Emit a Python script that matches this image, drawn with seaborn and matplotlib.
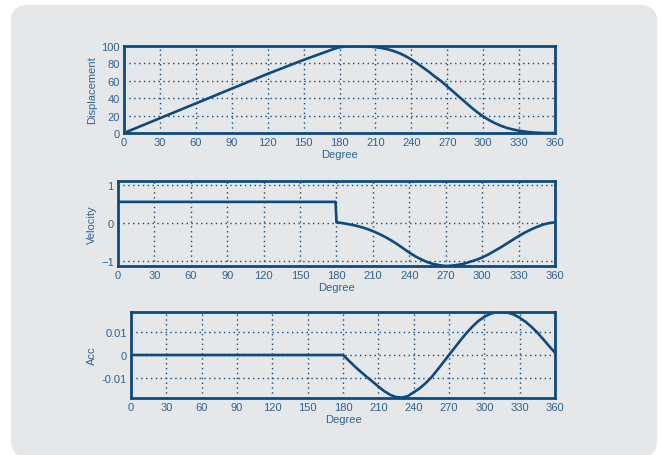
import numpy as np
import pandas as pd
import matplotlib
matplotlib.use("Agg")
import matplotlib.pyplot as plt
import seaborn as sns
from matplotlib.patches import FancyBboxPatch

# values
disp_deg = [0, 30, 60, 90, 120, 150, 160, 170, 175, 180, 185, 190, 195, 200, 205, 210,
            215, 220, 225, 230, 235, 240, 245, 250, 255, 260, 265, 270, 275, 280, 285,
            290, 295, 300, 305, 310, 315, 320, 325, 330, 335, 340, 345, 350, 360]
disp_val = [0, 17, 34, 51, 68, 84, 89, 94, 96.5, 98.5, 99.5, 100, 100, 99.8, 99.4, 98.7,
            97.7, 96.3, 94.3, 91.8, 88.5, 84.5, 80, 75, 70, 64.5, 59.5, 53.5, 47.5, 41.5, 35.5,
            29.5, 24, 19, 14.8, 11.2, 8.2, 5.8, 4, 2.6, 1.6, 0.8, 0.3, 0, 0]

vel_deg = [0, 179.2, 180, 185, 190, 195, 200, 205, 210, 215, 220, 225, 230, 235, 240,
           245, 250, 255, 260, 265, 270, 275, 280, 285, 290, 295, 300, 305, 310, 315,
           320, 325, 330, 335, 340, 345, 350, 355, 360]
vel_val = [0.555, 0.555, 0.02, 0.0, -0.03, -0.06, -0.10, -0.15, -0.21, -0.28, -0.36,
           -0.45, -0.55, -0.66, -0.77, -0.87, -0.95, -1.02, -1.07, -1.10, -1.12, -1.11,
           -1.09, -1.06, -1.01, -0.96, -0.90, -0.82, -0.73, -0.64, -0.54, -0.44, -0.34,
           -0.25, -0.17, -0.10, -0.04, 0.0, 0.02]

acc_deg = [0, 180, 185, 190, 195, 200, 205, 210, 215, 220, 225, 230, 235, 240, 245,
           250, 255, 260, 265, 270, 275, 280, 285, 290, 295, 300, 305, 310, 315, 320,
           325, 330, 335, 340, 345, 350, 355, 360]
acc_val = [0, 0, -0.0025, -0.0050, -0.0073, -0.0095, -0.0116, -0.0138, -0.0158, -0.0174,
           -0.0184, -0.0186, -0.0180, -0.0163, -0.0146, -0.0124, -0.0098, -0.0066,
           -0.0033, 0.0, 0.0033, 0.0066, 0.0097, 0.0125, 0.0149, 0.0167, 0.0180, 0.0187,
           0.0188, 0.0185, 0.0177, 0.0163, 0.0145, 0.0123, 0.0098, 0.0069, 0.0039, 0.001]

deg_ticks = list(range(0, 361, 30))
disp_ticks = [0, 20, 40, 60, 80, 100]
vel_ticks = [-1, 0, 1]
acc_ticks = [-0.01, 0, 0.01]
acc_ticklabels = ["-0.01", "0", "0.01"]

BLUE = "#0d4a80"
TEXT = "#2f6394"
PANEL = "#e6e7e9"

sns.set_style("white")
plt.rcParams["font.family"] = ["Liberation Sans", "DejaVu Sans"]

fig = plt.figure(figsize=(6.58, 4.56), dpi=100)
fig.patch.set_facecolor("white")
W, H = 658.0, 456.0
box = FancyBboxPatch((11 / W, -2 / H), 646 / W, 452 / H,
                     boxstyle="round,pad=0,rounding_size=0.025",
                     transform=fig.transFigure, facecolor=PANEL, edgecolor="none",
                     zorder=-10, mutation_aspect=W / H)
fig.patches.append(box)


def px_axes(left, top, right, bottom):
    return fig.add_axes([left / W, (H - bottom) / H, (right - left) / W, (bottom - top) / H])


panels = [
    (px_axes(124, 47, 555, 134), disp_deg, disp_val, "Displacement", (0, 100), disp_ticks, None),
    (px_axes(118, 182, 555, 267), vel_deg, vel_val, "Velocity", (-1.12, 1.1), vel_ticks, None),
    (px_axes(131, 313, 555, 399), acc_deg, acc_val, "Acc", (-0.0188, 0.0188), acc_ticks, acc_ticklabels),
]

for ax, xs, ys, label, ylim, yticks, yticklabels in panels:
    df = pd.DataFrame({"Degree": xs, label: ys})
    ax.set_facecolor(PANEL)
    sns.lineplot(data=df, x="Degree", y=label, ax=ax, color=BLUE, linewidth=1.9,
                 estimator=None, sort=False)
    ax.set_xlim(0, 360)
    ax.set_ylim(*ylim)
    ax.set_xticks(deg_ticks)
    ax.set_yticks(yticks)
    if yticklabels:
        ax.set_yticklabels(yticklabels)
    ax.grid(True, color=BLUE, linestyle=(0, (1, 2.5)), linewidth=1.0)
    ax.set_axisbelow(True)
    for sp in ax.spines.values():
        sp.set_visible(True)
        sp.set_color(BLUE)
        sp.set_linewidth(2.0)
        sp.set_zorder(5)
    ax.tick_params(axis="both", length=0, pad=3, labelsize=8, labelcolor=TEXT)
    ax.set_xlabel("Degree", fontsize=8, color=TEXT, labelpad=1)
    ax.set_ylabel(label, fontsize=8, color=TEXT, labelpad=3)

fig.savefig("out.png", dpi=100, facecolor="white")
